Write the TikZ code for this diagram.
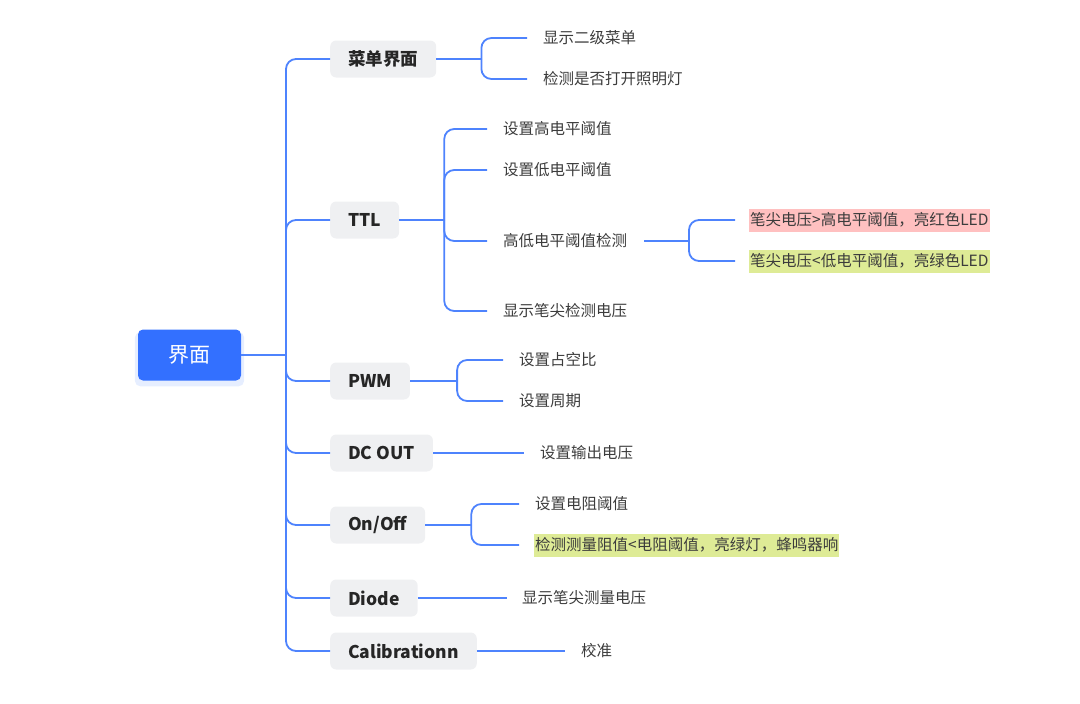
\documentclass[tikz,border=0pt]{standalone}
\usepackage{fontspec}
\setmainfont{Noto Sans CJK SC}
\definecolor{LINK_Color}{RGB}{78, 131, 253}
\definecolor{ROOT_Color}{RGB}{51, 112, 255}
\definecolor{BOX_Color}{RGB}{239, 240, 242}
\definecolor{TEXT_Color}{RGB}{60, 60, 60}
\definecolor{RED_Color}{RGB}{255, 192, 192}
\definecolor{GREEN_Color}{RGB}{222, 235, 150}
\usetikzlibrary{shadows}
\tikzset{
    link/.style={draw=LINK_Color, line width=1.8pt, rounded corners=10pt}, % blue connectors
    root node/.style={fill=ROOT_Color, text=white, rounded corners=5pt, minimum width=103pt, minimum height=51pt,
        font=\fontsize{21}{24}\selectfont,
        drop shadow={shadow xshift=0pt, shadow yshift=-4pt, shadow scale=1.06, fill=ROOT_Color, opacity=0.12}},
    branch node/.style={anchor=west, fill=BOX_Color, rounded corners=6pt, minimum height=37pt, inner xsep=18pt,
        text=black!85, font=\fontsize{17.5}{20}\selectfont\bfseries},
    leaf node/.style={anchor=west, inner xsep=1pt, text=TEXT_Color, font=\fontsize{15.5}{18}\selectfont},
    red leaf/.style={leaf node, fill=RED_Color, minimum height=23pt}, % highlighted text
    green leaf/.style={leaf node, fill=GREEN_Color, minimum height=23pt},
    }
\begin{document}
\begin{tikzpicture}
    [x=1pt, y=-1pt%, pixel units, y downwards
    ]
\useasboundingbox (0,0) rectangle (1080,704);

\node[root node] (root) at (189.5,355) {界面};

\node[branch node] (menu) at (330,59) {菜单界面};
\node[branch node] (ttl) at (330,220) {TTL};
\node[branch node] (pwm) at (330,381) {PWM};
\node[branch node] (dcout) at (330,453) {DC OUT};
\node[branch node] (onoff) at (330,525) {On/Off};
\node[branch node] (diode) at (330,598) {Diode};
\node[branch node] (calib) at (330,651) {Calibrationn};

\node[leaf node] (m1) at (542,38) {显示二级菜单};
\node[leaf node] (m2) at (542,79) {检测是否打开照明灯};

\node[leaf node] (t1) at (502,129) {设置高电平阈值};
\node[leaf node] (t2) at (502,170) {设置低电平阈值};
\node[leaf node] (t3) at (502,241) {高低电平阈值检测};
\node[leaf node] (t4) at (502,311) {显示笔尖检测电压};
\node[red leaf] (h1) at (749,220) {笔尖电压>高电平阈值，亮红色LED};
\node[green leaf] (h2) at (749,261) {笔尖电压<低电平阈值，亮绿色LED};

\node[leaf node] (p1) at (518,360) {设置占空比};
\node[leaf node] (p2) at (518,401) {设置周期};

\node[leaf node] (d1) at (539,453) {设置输出电压};

\node[leaf node] (o1) at (534,504) {设置电阻阈值};
\node[green leaf] (o2) at (534,545) {检测测量阻值<电阻阈值，亮绿灯，蜂鸣器响};

\node[leaf node] (di1) at (521,598) {显示笔尖测量电压};

\node[leaf node] (c1) at (580,651) {校准};

% trunk
\draw[link] (root.east) -- (286,355) coordinate (trunk);
\draw[link] (trunk) |- (menu.west);
\draw[link] (trunk) |- (ttl.west);
\draw[link] (trunk) |- (pwm.west);
\draw[link] (trunk) |- (dcout.west);
\draw[link] (trunk) |- (onoff.west);
\draw[link] (trunk) |- (diode.west);
\draw[link] (trunk) |- (calib.west);

% forks
\draw[link] (menu.east) -- ++(45,0) coordinate (f1);
\draw[link, shorten >=15pt] (f1) |- (m1.west);
\draw[link, shorten >=15pt] (f1) |- (m2.west);

\draw[link] (ttl.east) -- ++(45,0) coordinate (f2);
\draw[link, shorten >=15pt] (f2) |- (t1.west);
\draw[link, shorten >=15pt] (f2) |- (t2.west);
\draw[link, shorten >=15pt] (f2) |- (t3.west);
\draw[link, shorten >=15pt] (f2) |- (t4.west);

\draw[link, shorten <=16pt] (t3.east) -- (689,241) coordinate (f3);
\draw[link, shorten >=14pt] (f3) |- (h1.west);
\draw[link, shorten >=14pt] (f3) |- (h2.west);

\draw[link] (pwm.east) -- ++(47,0) coordinate (f4);
\draw[link, shorten >=15pt] (f4) |- (p1.west);
\draw[link, shorten >=15pt] (f4) |- (p2.west);

\draw[link, shorten >=15pt] (dcout.east) -- (d1.west);

\draw[link] (onoff.east) -- ++(46,0) coordinate (f5);
\draw[link, shorten >=15pt] (f5) |- (o1.west);
\draw[link, shorten >=15pt] (f5) |- (o2.west);

\draw[link, shorten >=14pt] (diode.east) -- (di1.west);
\draw[link, shorten >=15pt] (calib.east) -- (c1.west);
\end{tikzpicture}
\end{document}
